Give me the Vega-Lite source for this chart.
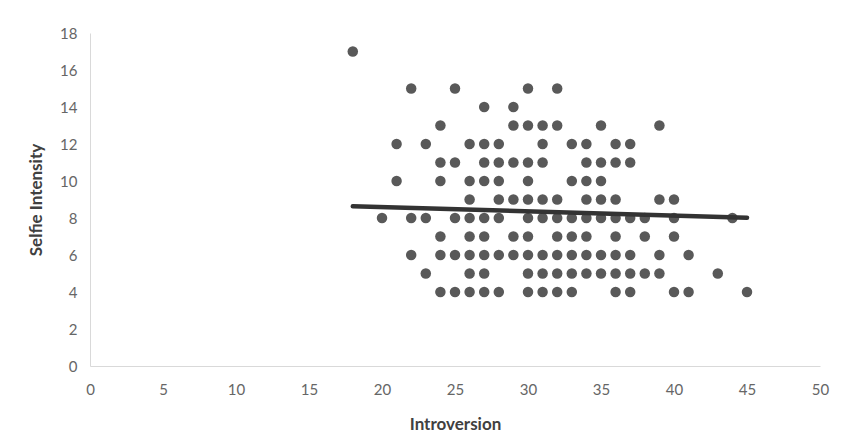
{
  "$schema": "https://vega.github.io/schema/vega-lite/v6.json",
  "width": 730,
  "height": 333,
  "autosize": {"type": "none"},
  "padding": {"left": 90, "top": 33, "right": 30, "bottom": 73},
  "background": "white",
  "config": {
    "view": {"stroke": null},
    "font": "Lato",
    "axis": {
      "grid": false,
      "ticks": false,
      "domainColor": "#d9d9d9",
      "domainWidth": 1,
      "labelColor": "#666666",
      "labelFontSize": 15,
      "labelFont": "Lato",
      "labelFlush": false,
      "labelOverlap": false,
      "titleColor": "#404040",
      "titleFontSize": 17,
      "titleFont": "Lato",
      "titleFontWeight": "bold"
    },
    "axisQuantitative": {"labelOverlap": false},
    "axisY": {"labelOverlap": false}
  },
  "datasets": {
    "points": [
      {"x": 18, "y": 17},
      {"x": 22, "y": 15}, {"x": 25, "y": 15}, {"x": 30, "y": 15}, {"x": 32, "y": 15},
      {"x": 27, "y": 14}, {"x": 29, "y": 14},
      {"x": 24, "y": 13}, {"x": 29, "y": 13}, {"x": 30, "y": 13}, {"x": 31, "y": 13}, {"x": 32, "y": 13}, {"x": 35, "y": 13}, {"x": 39, "y": 13},
      {"x": 21, "y": 12}, {"x": 23, "y": 12}, {"x": 26, "y": 12}, {"x": 27, "y": 12}, {"x": 28, "y": 12}, {"x": 31, "y": 12}, {"x": 33, "y": 12}, {"x": 34, "y": 12}, {"x": 36, "y": 12}, {"x": 37, "y": 12},
      {"x": 24, "y": 11}, {"x": 25, "y": 11}, {"x": 27, "y": 11}, {"x": 28, "y": 11}, {"x": 29, "y": 11}, {"x": 30, "y": 11}, {"x": 31, "y": 11}, {"x": 34, "y": 11}, {"x": 35, "y": 11}, {"x": 36, "y": 11}, {"x": 37, "y": 11},
      {"x": 21, "y": 10}, {"x": 24, "y": 10}, {"x": 26, "y": 10}, {"x": 27, "y": 10}, {"x": 28, "y": 10}, {"x": 30, "y": 10}, {"x": 33, "y": 10}, {"x": 34, "y": 10}, {"x": 35, "y": 10},
      {"x": 26, "y": 9}, {"x": 28, "y": 9}, {"x": 29, "y": 9}, {"x": 30, "y": 9}, {"x": 31, "y": 9}, {"x": 32, "y": 9}, {"x": 34, "y": 9}, {"x": 35, "y": 9}, {"x": 36, "y": 9}, {"x": 39, "y": 9}, {"x": 40, "y": 9},
      {"x": 20, "y": 8}, {"x": 22, "y": 8}, {"x": 23, "y": 8}, {"x": 25, "y": 8}, {"x": 26, "y": 8}, {"x": 27, "y": 8}, {"x": 28, "y": 8}, {"x": 30, "y": 8}, {"x": 31, "y": 8}, {"x": 32, "y": 8}, {"x": 33, "y": 8}, {"x": 34, "y": 8}, {"x": 35, "y": 8}, {"x": 36, "y": 8}, {"x": 37, "y": 8}, {"x": 38, "y": 8}, {"x": 40, "y": 8}, {"x": 44, "y": 8},
      {"x": 24, "y": 7}, {"x": 26, "y": 7}, {"x": 27, "y": 7}, {"x": 29, "y": 7}, {"x": 30, "y": 7}, {"x": 32, "y": 7}, {"x": 33, "y": 7}, {"x": 34, "y": 7}, {"x": 36, "y": 7}, {"x": 38, "y": 7}, {"x": 40, "y": 7},
      {"x": 22, "y": 6}, {"x": 24, "y": 6}, {"x": 25, "y": 6}, {"x": 26, "y": 6}, {"x": 27, "y": 6}, {"x": 28, "y": 6}, {"x": 29, "y": 6}, {"x": 30, "y": 6}, {"x": 31, "y": 6}, {"x": 32, "y": 6}, {"x": 33, "y": 6}, {"x": 34, "y": 6}, {"x": 35, "y": 6}, {"x": 36, "y": 6}, {"x": 37, "y": 6}, {"x": 39, "y": 6}, {"x": 41, "y": 6},
      {"x": 23, "y": 5}, {"x": 26, "y": 5}, {"x": 27, "y": 5}, {"x": 30, "y": 5}, {"x": 31, "y": 5}, {"x": 32, "y": 5}, {"x": 33, "y": 5}, {"x": 34, "y": 5}, {"x": 35, "y": 5}, {"x": 36, "y": 5}, {"x": 37, "y": 5}, {"x": 38, "y": 5}, {"x": 39, "y": 5}, {"x": 43, "y": 5},
      {"x": 24, "y": 4}, {"x": 25, "y": 4}, {"x": 26, "y": 4}, {"x": 27, "y": 4}, {"x": 28, "y": 4}, {"x": 30, "y": 4}, {"x": 31, "y": 4}, {"x": 32, "y": 4}, {"x": 33, "y": 4}, {"x": 36, "y": 4}, {"x": 37, "y": 4}, {"x": 40, "y": 4}, {"x": 41, "y": 4}, {"x": 45, "y": 4}
    ],
    "trend": [
      {"x": 18, "y": 8.63},
      {"x": 45, "y": 8.02}
    ]
  },
  "encoding": {
    "x": {
      "field": "x", "type": "quantitative", "title": "Introversion",
      "scale": {"domain": [0, 50], "nice": false, "zero": true},
      "axis": {"values": [0, 5, 10, 15, 20, 25, 30, 35, 40, 45, 50], "labelPadding": 16, "titlePadding": 19, "labelOverlap": false}
    },
    "y": {
      "field": "y", "type": "quantitative", "title": "Selfie Intensity",
      "scale": {"domain": [0, 18], "nice": false},
      "axis": {"values": [0, 2, 4, 6, 8, 10, 12, 14, 16, 18], "labelPadding": 13, "titlePadding": 14, "labelOverlap": false}
    }
  },
  "layer": [
    {
      "data": {"name": "points"},
      "mark": {"type": "circle", "size": 110, "color": "#595959", "opacity": 1}
    },
    {
      "data": {"name": "trend"},
      "mark": {"type": "line", "color": "#333333", "strokeWidth": 4.5, "strokeCap": "round"}
    }
  ]
}
